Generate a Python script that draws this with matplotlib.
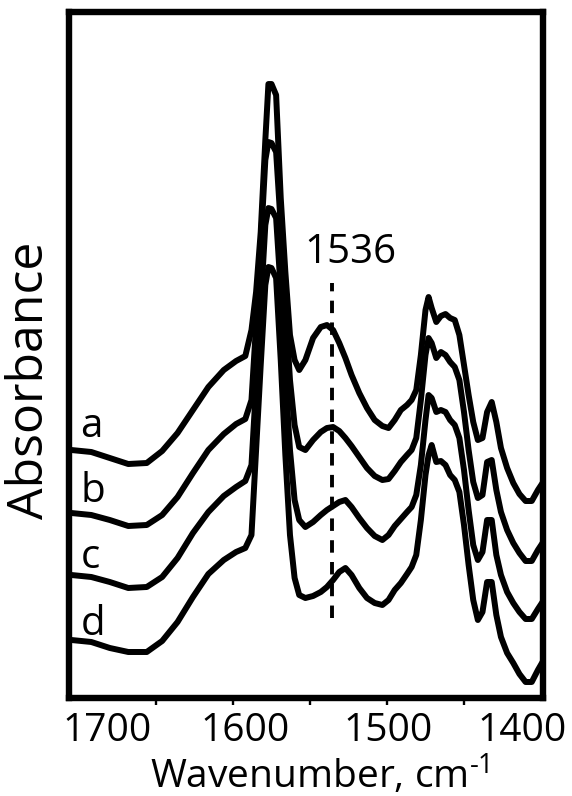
import matplotlib
matplotlib.use("Agg")
import matplotlib.pyplot as plt
from matplotlib.ticker import FixedLocator, FixedFormatter

plt.rcParams['font.family'] = ['Open Sans', 'DejaVu Sans']
plt.rcParams['mathtext.fontset'] = 'custom'
plt.rcParams['mathtext.rm'] = 'Open Sans'
plt.rcParams['mathtext.default'] = 'regular'

# wavenumber grid (cm-1)
wavenumber = [1705, 1692, 1680, 1668, 1656, 1646, 1636, 1626, 1616, 1606,
              1598, 1592, 1588, 1585, 1582, 1579, 1577, 1575, 1572, 1569,
              1566, 1563, 1560, 1557, 1553, 1548, 1543, 1539, 1535, 1531,
              1527, 1523, 1518, 1513, 1508, 1503, 1499, 1495, 1491, 1487,
              1484, 1481, 1478, 1475, 1473, 1471, 1468, 1465, 1462, 1459,
              1456, 1453, 1450, 1447, 1444, 1441, 1438, 1435, 1432, 1429,
              1426, 1422, 1418, 1414, 1410, 1406, 1402, 1399]

spec_a = [0.250, 0.248, 0.242, 0.236, 0.237, 0.249, 0.267, 0.290, 0.313, 0.330,
          0.339, 0.344, 0.370, 0.408, 0.468, 0.560, 0.616, 0.616, 0.605, 0.502,
          0.428, 0.365, 0.340, 0.330, 0.340, 0.362, 0.373, 0.375, 0.370, 0.357,
          0.342, 0.325, 0.307, 0.292, 0.280, 0.274, 0.272, 0.280, 0.290, 0.295,
          0.300, 0.310, 0.345, 0.390, 0.403, 0.392, 0.378, 0.384, 0.386, 0.382,
          0.380, 0.365, 0.335, 0.305, 0.278, 0.260, 0.262, 0.288, 0.298, 0.278,
          0.252, 0.232, 0.217, 0.206, 0.199, 0.199, 0.210, 0.217]

spec_b = [0.187, 0.185, 0.180, 0.174, 0.175, 0.185, 0.203, 0.227, 0.250, 0.266,
          0.276, 0.281, 0.300, 0.375, 0.455, 0.540, 0.558, 0.557, 0.548, 0.475,
          0.395, 0.320, 0.275, 0.253, 0.250, 0.260, 0.268, 0.272, 0.273, 0.269,
          0.262, 0.254, 0.243, 0.232, 0.224, 0.220, 0.221, 0.229, 0.238, 0.245,
          0.250, 0.262, 0.300, 0.345, 0.362, 0.357, 0.342, 0.348, 0.345, 0.338,
          0.333, 0.320, 0.288, 0.250, 0.218, 0.202, 0.205, 0.238, 0.240, 0.210,
          0.188, 0.170, 0.157, 0.147, 0.139, 0.139, 0.150, 0.157]

spec_c = [0.125, 0.123, 0.118, 0.112, 0.113, 0.123, 0.142, 0.167, 0.188, 0.204,
          0.213, 0.219, 0.235, 0.315, 0.395, 0.475, 0.492, 0.491, 0.482, 0.410,
          0.325, 0.250, 0.200, 0.180, 0.173, 0.178, 0.185, 0.190, 0.194, 0.198,
          0.200, 0.193, 0.182, 0.172, 0.164, 0.160, 0.165, 0.174, 0.181, 0.188,
          0.193, 0.205, 0.235, 0.280, 0.305, 0.302, 0.288, 0.290, 0.288, 0.280,
          0.275, 0.262, 0.230, 0.190, 0.155, 0.140, 0.148, 0.180, 0.180, 0.145,
          0.125, 0.108, 0.097, 0.088, 0.081, 0.081, 0.091, 0.098]

spec_d = [0.060, 0.058, 0.052, 0.048, 0.048, 0.059, 0.078, 0.103, 0.126, 0.140,
          0.148, 0.152, 0.165, 0.250, 0.335, 0.415, 0.433, 0.432, 0.422, 0.340,
          0.245, 0.165, 0.122, 0.105, 0.102, 0.104, 0.108, 0.113, 0.120, 0.128,
          0.132, 0.125, 0.112, 0.102, 0.097, 0.095, 0.100, 0.110, 0.117, 0.126,
          0.133, 0.145, 0.180, 0.225, 0.245, 0.255, 0.238, 0.239, 0.235, 0.225,
          0.220, 0.208, 0.175, 0.135, 0.100, 0.080, 0.088, 0.118, 0.118, 0.085,
          0.063, 0.047, 0.037, 0.026, 0.018, 0.018, 0.030, 0.038]

curve_labels = ['a', 'b', 'c', 'd']
curve_label_y = [0.263, 0.198, 0.132, 0.065]
marker_wn = 1536
marker_span = [0.082, 0.417]
tick_label_text = ['1700', '1600', '1500', '1400']
tick_label_pos = [1682, 1592, 1499.5, 1412]
minor_tick_pos = [1650, 1600, 1550, 1500, 1450]

fig = plt.figure(figsize=(5.72, 7.96), dpi=100)
ax = fig.add_axes([0.1206, 0.1225, 0.8287, 0.862])

for spec in [spec_a, spec_b, spec_c, spec_d]:
    ax.plot(wavenumber, spec, color='black', lw=4.3,
            solid_joinstyle='round', solid_capstyle='round')

ax.plot([marker_wn, marker_wn], marker_span, color='black', lw=2.8,
        linestyle=(0, (3.2, 2.4)))
ax.text(1524, 0.437, str(marker_wn), ha='center', va='baseline', fontsize=29)

for lab, yv in zip(curve_labels, curve_label_y):
    ax.text(1699, yv, lab, ha='left', va='baseline', fontsize=29)

ax.set_xlim(1706.5, 1398.7)
ax.set_ylim(0.0015, 0.6877)
ax.set_yticks([])

ax.xaxis.set_major_locator(FixedLocator(tick_label_pos))
ax.xaxis.set_major_formatter(FixedFormatter(tick_label_text))
ax.xaxis.set_minor_locator(FixedLocator(minor_tick_pos))
ax.tick_params(axis='x', which='major', length=0, pad=10, labelsize=28)
ax.tick_params(axis='x', which='minor', length=5, width=1.7, direction='out')

for sp in ax.spines.values():
    sp.set_linewidth(4.6)
    sp.set_capstyle('projecting')

ax.set_xlabel('Wavenumber, cm$^{\\text{-}1}$', fontsize=28)
ax.xaxis.set_label_coords(0.5295, -0.0795)
ax.set_ylabel('Absorbance', fontsize=36)
ax.yaxis.set_label_coords(-0.030, 0.4637)

fig.savefig('out.png', dpi=100, facecolor='white')
